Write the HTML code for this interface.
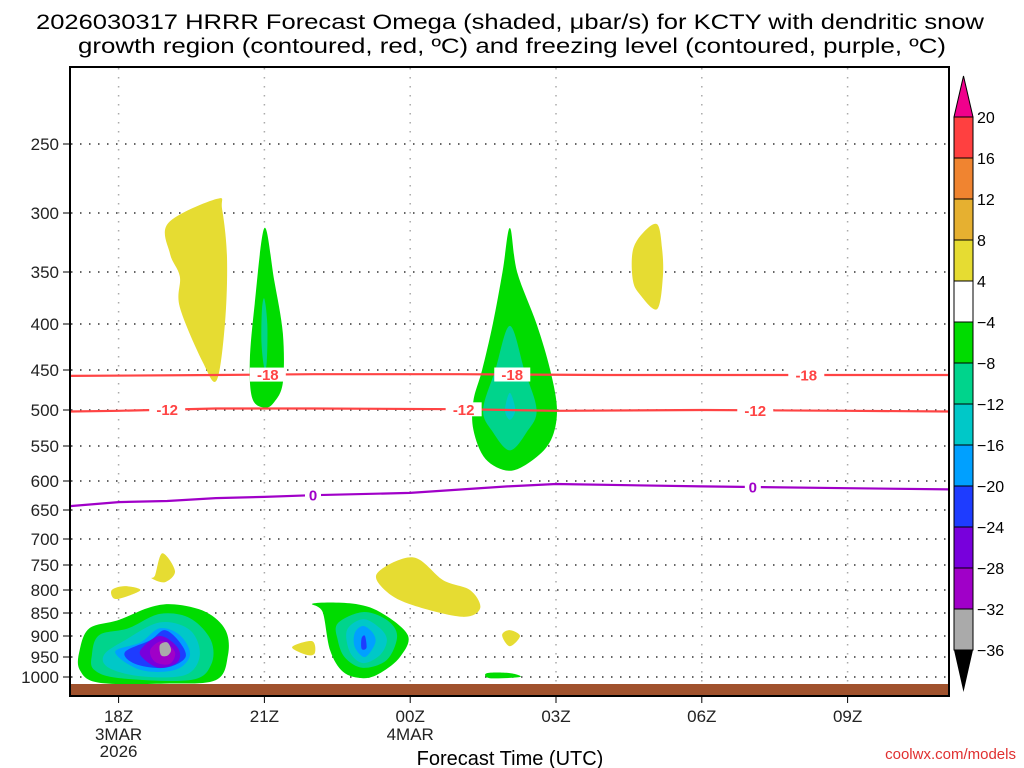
<!DOCTYPE html>
<html><head><meta charset="utf-8"><style>
html,body{margin:0;padding:0;background:#fff;}
svg{display:block;font-family:"Liberation Sans",sans-serif;}
</style></head><body>
<svg id="chart" width="1024" height="768" viewBox="0 0 1024 768" xmlns="http://www.w3.org/2000/svg">
<g>
<text x="510" y="29" font-size="21" text-anchor="middle" textLength="948" lengthAdjust="spacingAndGlyphs" fill="#000">2026030317 HRRR Forecast Omega (shaded, μbar/s) for KCTY with dendritic snow</text>
<text x="512" y="53" font-size="21" text-anchor="middle" textLength="868" lengthAdjust="spacingAndGlyphs" fill="#000">growth region (contoured, red, ºC) and freezing level (contoured, purple, ºC)</text>
</g>
<g id="grid"></g>
<g id="shading"></g>
<rect x="71" y="684" width="878" height="11" fill="#a0522d"/>
<g id="contours"></g>
<rect x="70" y="67" width="879" height="629" fill="none" stroke="#000" stroke-width="2"/>
<g id="axes"></g>
<g id="colorbar"></g>
<text x="510" y="765" font-size="20" text-anchor="middle" fill="#000">Forecast Time (UTC)</text>
<text x="1016" y="759" font-size="15" text-anchor="end" fill="#e03030">coolwx.com/models</text>
</svg>
<script>
// ---- data ----
const xTickHours = [18, 21, 24, 27, 30, 33];
const xTickLabels = ["18Z", "21Z", "00Z", "03Z", "06Z", "09Z"];
const yTickLevels = [250, 300, 350, 400, 450, 500, 550, 600, 650, 700, 750, 800, 850, 900, 950, 1000];
const cbLevels = ["20", "16", "12", "8", "4", "-4", "-8", "-12", "-16", "-20", "-24", "-28", "-32", "-36"];
const cbColors = ["#ff4040", "#f08430", "#e6b030", "#e6dc32", "#ffffff", "#00dc00", "#00d48c", "#00c8c8", "#00a0ff", "#1e3cff", "#7800dc", "#a000c8", "#aaaaaa"];
// blobs: [colorIndex, points [hour, hPa]]
const blobLevels = [5,6,7,8,9,10,11,12, 5,6,7,8,9, 5,6,7, 5,6, 3,3,3,3,3,3,3, 5];
const blobPoints = [
 [[17.2,933],[17.4,883],[18.0,865],[18.65,837],[19.15,831],[19.8,848],[20.2,887],[20.25,945],[20.0,1008],[18.95,1017],[17.6,1015],[17.2,982]],
 [[17.45,945],[17.6,898],[18.2,883],[18.85,852],[19.47,861],[19.9,910],[19.9,970],[19.47,1008],[18.03,1003],[17.5,982]],
 [[17.7,945],[18.13,910],[18.85,870],[19.47,887],[19.67,945],[19.37,995],[18.45,998],[17.8,977]],
 [[17.93,938],[18.45,915],[18.85,883],[19.26,898],[19.47,945],[19.16,982],[18.45,982]],
 [[18.13,938],[18.65,910],[18.95,887],[19.26,915],[19.37,952],[18.95,977],[18.34,967]],
 [[18.45,933],[18.85,900],[19.22,928],[19.22,962],[18.85,977],[18.54,957]],
 [[18.65,933],[18.9,912],[19.16,938],[19.05,967],[18.75,962]],
 [[18.85,921],[19.0,915],[19.08,933],[19.0,947],[18.87,945]],
 [[22.0,829],[22.8,829],[23.38,848],[23.95,898],[23.79,950],[23.38,990],[23.03,1003],[22.62,987],[22.35,933],[22.2,848]],
 [[22.51,872],[23.03,848],[23.52,865],[23.73,900],[23.52,957],[23.03,977],[22.66,952],[22.51,910]],
 [[22.7,887],[23.03,863],[23.38,883],[23.52,910],[23.38,945],[23.03,965],[22.76,938]],
 [[22.86,893],[23.03,878],[23.23,893],[23.28,917],[23.07,950],[22.86,926]],
 [[23.0,905],[23.07,900],[23.1,928],[23.0,930]],
 [[26.05,312],[26.2,350],[26.6,400],[26.88,450],[27.02,500],[26.9,541],[26.55,568],[26.05,585],[25.55,568],[25.3,527],[25.3,488],[25.48,450],[25.7,400],[25.9,350]],
 [[26.05,402],[26.35,450],[26.6,500],[26.4,530],[26.05,556],[25.7,530],[25.5,500],[25.75,450]],
 [[26.05,478],[26.16,500],[26.05,513],[25.95,500]],
 [[21.0,312],[21.2,357],[21.38,410],[21.38,465],[21.2,490],[21.0,497],[20.75,485],[20.7,440],[20.8,380]],
 [[21.0,375],[21.06,400],[21.05,440],[21.0,448],[20.94,420],[20.95,385]],
 [[19.02,308],[19.06,334],[19.26,354],[19.26,383],[19.74,442],[20.02,462],[20.19,399],[20.23,337],[20.13,297],[20.02,289]],
 [[29.08,309],[29.18,328],[29.2,354],[29.08,385],[28.73,371],[28.58,357],[28.58,331],[28.79,316]],
 [[23.32,766],[24.06,735],[24.68,780],[25.23,800],[25.44,839],[25.07,858],[24.06,833],[23.52,804]],
 [[18.75,770],[18.9,727],[19.16,762],[18.95,784],[18.68,776]],
 [[17.86,800],[18.13,792],[18.45,800],[18.1,816],[17.9,818]],
 [[21.57,926],[21.98,912],[22.04,940],[21.88,945]],
 [[25.89,898],[26.05,887],[26.26,900],[26.05,924]],
 [[25.58,990],[26.05,990],[26.26,1000],[25.64,1003]]
];
const redMinus18 = [[17,457],[20,456],[22,455],[25,455],[28,456],[32,456],[35.1,456]];
const redMinus12 = [[17,502],[18,501],[20,498],[22,498],[25,499],[27,501],[30,500],[33,501],[35.1,502]];
const purpleZero = [[17,643],[18,636],[19,634],[20,629],[21,627],[22,624],[24,620],[26,609],[27,605],[30,609],[33,612],[35.1,614]];
const labels18 = [21.07, 26.1, 32.15];
const labels12 = [19.0, 25.1, 31.1];
const labels0 = [22.0, 31.05];

// ---- scales ----
const X0 = 70, PXH = 48.6, H0 = 17;
function xs(h){ return X0 + (h - H0) * PXH; }
const yCal = [144,213,272,324,370,410,446,481,510,539,565,590,613,636,657,677];
function ys(p){
  const lp = Math.log(p), L = yTickLevels.map(Math.log);
  let i = 0;
  while (i < L.length - 2 && lp > L[i+1]) i++;
  return yCal[i] + (lp - L[i]) / (L[i+1] - L[i]) * (yCal[i+1] - yCal[i]);
}
const NS = "http://www.w3.org/2000/svg";
function mk(tag, attrs, parent){ const e = document.createElementNS(NS, tag); for (const k in attrs) e.setAttribute(k, attrs[k]); parent.appendChild(e); return e; }
function smoothClosed(pts){
  const n = pts.length; let d = "M" + pts[0][0].toFixed(1) + "," + pts[0][1].toFixed(1);
  for (let i = 0; i < n; i++){
    const p0 = pts[(i-1+n)%n], p1 = pts[i], p2 = pts[(i+1)%n], p3 = pts[(i+2)%n];
    const c1 = [p1[0]+(p2[0]-p0[0])/6, p1[1]+(p2[1]-p0[1])/6];
    const c2 = [p2[0]-(p3[0]-p1[0])/6, p2[1]-(p3[1]-p1[1])/6];
    d += "C"+c1[0].toFixed(1)+","+c1[1].toFixed(1)+" "+c2[0].toFixed(1)+","+c2[1].toFixed(1)+" "+p2[0].toFixed(1)+","+p2[1].toFixed(1);
  }
  return d + "Z";
}
function interpP(line, h){
  for (let i = 0; i < line.length-1; i++) if (h >= line[i][0] && h <= line[i+1][0]){
    const t = (h-line[i][0])/(line[i+1][0]-line[i][0]); return line[i][1] + t*(line[i+1][1]-line[i][1]);
  }
  return line[line.length-1][1];
}

// ---- grid ----
const grid = document.getElementById("grid");
yTickLevels.forEach(p => {
  const l = mk("line", {x1:71, x2:948, y1:ys(p), y2:ys(p), stroke:"#333", "stroke-width":1.5, "stroke-dasharray":"1.5 7.5"}, grid);
  
  
});
xTickHours.forEach(h => {
  const l = mk("line", {x1:xs(h), x2:xs(h), y1:68, y2:695, stroke:"#aaa", "stroke-width":1.5, "stroke-dasharray":"1.5 7.5"}, grid);
  
  
});

// ---- shading ----
const sh = document.getElementById("shading");
blobPoints.forEach((pts, i) => {
  const px = pts.map(q => [xs(q[0]), ys(q[1])]);
  const e = mk("path", {d: smoothClosed(px), fill: cbColors[blobLevels[i]]}, sh);
  
  
});

// ---- contours ----
const ct = document.getElementById("contours");
function drawLine(line, color, labs, txt, name){
  const d = line.map((q,i) => (i?"L":"M") + xs(q[0]).toFixed(1) + "," + ys(q[1]).toFixed(1)).join("");
  const e = mk("path", {d:d, fill:"none", stroke:color, "stroke-width":2.2}, ct);
  
  
  labs.forEach(h => {
    const x = xs(h), y = ys(interpP(line, h));
    const w = txt.length * 10 + 6;
    const bg = mk("rect", {x:x-w/2, y:y-7, width:w, height:14, fill:"#fff"}, ct);
    
    
    const t = mk("text", {x:x, y:y+5.5, "font-size":15, "font-weight":"bold", "text-anchor":"middle", fill:color}, ct);
    t.textContent = txt;
    
    
  });
}
drawLine(redMinus18, "#ff4444", labels18, "-18", "dgz-minus18-contour");
drawLine(redMinus12, "#ff4444", labels12, "-12", "dgz-minus12-contour");
drawLine(purpleZero, "#a000c8", labels0, "0", "freezing-level-contour");

// ---- axes ----
const ax = document.getElementById("axes");
yTickLevels.forEach(p => {
  const tk = mk("line", {x1:63, x2:70, y1:ys(p), y2:ys(p), stroke:"#000", "stroke-width":1}, ax);
  
  
  const t = mk("text", {x:59, y:ys(p)+6, "font-size":17, "text-anchor":"end", fill:"#222"}, ax);
  t.textContent = String(p);
  
  
});
xTickHours.forEach((h, i) => {
  const tk = mk("line", {x1:xs(h), x2:xs(h), y1:696, y2:703, stroke:"#000", "stroke-width":1}, ax);
  
  
  const t = mk("text", {x:xs(h), y:722, "font-size":17, "text-anchor":"middle", fill:"#222"}, ax);
  t.textContent = xTickLabels[i];
  
  
});
[["3MAR",740,24-6],["2026",757,24-6],["4MAR",740,24]].forEach(a => {
  const t = mk("text", {x:xs(a[2]), y:a[1], "font-size":17, "text-anchor":"middle", fill:"#222"}, ax);
  t.textContent = a[0];
  
  
});

// ---- colorbar ----
const cb = document.getElementById("colorbar");
const cbX = 954, cbW = 19, cbTop = 117, cbStep = 41;
cbColors.forEach((c, i) => {
  const r = mk("rect", {x:cbX, y:cbTop+i*cbStep, width:cbW, height:cbStep, fill:c, stroke:"#000", "stroke-width":1}, cb);
  
  
});
const triT = mk("polygon", {points: cbX+","+cbTop+" "+(cbX+cbW)+","+cbTop+" "+(cbX+cbW/2)+",76", fill:"#f0008c", stroke:"#000", "stroke-width":1}, cb);


const yb = cbTop + cbColors.length*cbStep;
const triB = mk("polygon", {points: cbX+","+yb+" "+(cbX+cbW)+","+yb+" "+(cbX+cbW/2)+",692", fill:"#000"}, cb);


cbLevels.forEach((s, i) => {
  const t = mk("text", {x:977, y:cbTop+i*cbStep+6, "font-size":16, fill:"#000"}, cb);
  t.textContent = s.replace("-", "\u2212");
  
  
});
</script>
</body></html>
